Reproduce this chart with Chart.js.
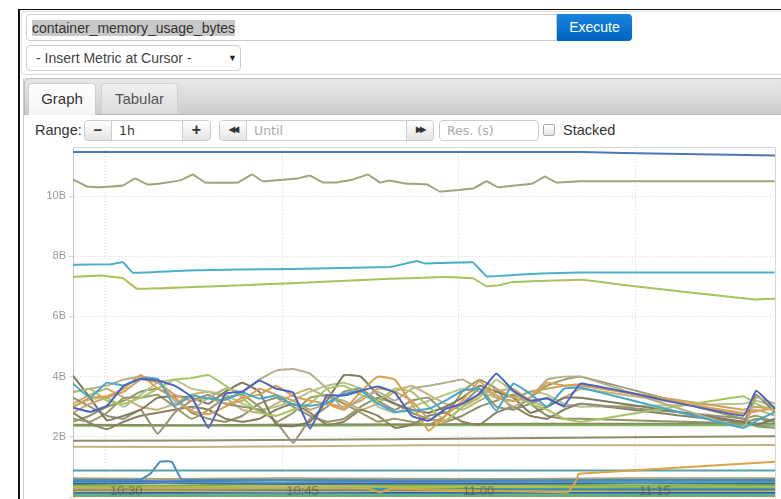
<!DOCTYPE html>
<html>
<head>
<meta charset="utf-8">
<title>container_memory_usage_bytes</title>
<script src="https://cdn.jsdelivr.net/npm/chart.js@4.4.1/dist/chart.umd.min.js"></script>
<style>
body { margin: 0; width: 781px; height: 499px; overflow: hidden; background: #fff; position: relative;
       font-family: "Liberation Sans", Arial, sans-serif; color: #333; }
.abs { position: absolute; box-sizing: border-box; }
.btn { top: 120px; height: 21px; border: 1px solid #ccc; background: linear-gradient(#fff, #e4e4e4);
       text-align: center; line-height: 18px; color: #333; font-weight: bold; }
.inp { top: 120px; height: 21px; border: 1px solid #ccc; background: #fff; padding-left: 7px;
       line-height: 19px; font-family: "DejaVu Sans", sans-serif; font-size: 12.5px; color: #aaa; }
</style>
</head>
<body>
<div class="abs" style="left:18px;top:9px;width:770px;height:500px;border-left:2px solid #111;border-top:1px solid #111"></div>
<div class="abs" style="left:21px;top:11px;width:770px;height:64px;border:1px solid #ddd;border-radius:4px"></div>

<div class="abs" style="left:26px;top:14px;width:531px;height:27px;border:1px solid #ccc;border-radius:4px 0 0 4px">
  <span style="position:absolute;left:5px;top:5px;background:#c8c8c8;font-size:14px;line-height:16px;color:#333">container_memory_usage_bytes</span>
</div>
<div class="abs" style="left:557px;top:14px;width:75px;height:27px;background:linear-gradient(#1784de,#0064c4);border-radius:0 4px 4px 0;color:#fff;font-size:14px;line-height:27px;text-align:center">Execute</div>

<div class="abs" style="left:26px;top:45px;width:215px;height:26px;border:1px solid #ccc;border-radius:4px;font-size:14px;line-height:24px;padding-left:9px;color:#444">- Insert Metric at Cursor -
  <span style="position:absolute;left:201px;top:0;font-size:9px;color:#222">&#9660;</span>
</div>

<div class="abs" style="left:23px;top:78px;width:10px;height:430px;border-left:1px solid #ccc"></div>
<div class="abs" style="left:24px;top:78px;width:760px;height:37px;background:linear-gradient(#e9e9e9,#cdcdcd);border:1px solid #bbb;border-radius:4px 0 0 0"></div>
<div class="abs" style="left:28px;top:83px;width:68px;height:32px;background:linear-gradient(#fff,#f4f4f4);border:1px solid #ccc;border-bottom:none;border-radius:4px 4px 0 0;font-size:15px;line-height:30px;text-align:center;color:#333">Graph</div>
<div class="abs" style="left:101px;top:83px;width:77px;height:31px;background:linear-gradient(#f0f0f0,#dcdcdc);border:1px solid #d0d0d0;border-bottom:none;border-radius:4px 4px 0 0;font-size:15px;line-height:30px;text-align:center;color:#555">Tabular</div>

<div class="abs" style="left:35px;top:121px;font-size:14.5px;line-height:18px">Range:</div>
<div class="abs btn" style="left:84px;width:28px;border-radius:4px 0 0 4px;font-size:15px">&#8722;</div>
<div class="abs inp" style="left:111px;width:72px;color:#333">1h</div>
<div class="abs btn" style="left:182px;width:29px;border-radius:0 4px 4px 0;font-size:16px">+</div>
<div class="abs btn" style="left:219px;width:28px;border-radius:4px 0 0 4px;font-size:8px;letter-spacing:-2px">&#9664;&#9664;</div>
<div class="abs inp" style="left:246px;width:161px">Until</div>
<div class="abs btn" style="left:406px;width:28px;border-radius:0 4px 4px 0;font-size:8px;letter-spacing:-2px">&#9654;&#9654;</div>
<div class="abs inp" style="left:439px;width:100px;border-radius:4px">Res. (s)</div>
<div class="abs" style="left:543px;top:124px;width:12px;height:12px;border:1px solid #aaa;border-radius:2px;background:linear-gradient(#fff,#e4e4e4)"></div>
<div class="abs" style="left:563px;top:121px;font-size:14.5px;line-height:18px">Stacked</div>

<div class="abs" style="left:24px;top:141px;width:752px;height:366px">
  <canvas id="memChart"></canvas>
</div>

<script>
// x positions are minutes after 10:00
const xTickTimes = [30, 45, 60, 75]
const xTickLabels = ['10:30', '10:45', '11:00', '11:15']

// the four series above 6B
const topBlueTimes = [27.2, 70.55, 73.95, 86.9]
const topBlueValues = [11.46, 11.46, 11.43, 11.35]

const topOliveTimes = [27.2, 28.39, 29.5, 31.45, 32.47, 33.49, 34.6, 36.3, 37.4, 38.42, 41.23, 42.42, 43.35, 46.24, 47.35, 48.45,
    49.64, 51.0, 52.28, 53.3, 54.15, 55.42, 57.29, 58.4, 61.2, 62.39, 63.33, 66.3, 67.32, 68.34, 70.3, 86.87]
const topOliveValues = [10.55, 10.32, 10.29, 10.35, 10.58, 10.39, 10.42, 10.52, 10.72, 10.45, 10.45, 10.72, 10.49, 10.58, 10.68, 10.45,
    10.45, 10.55, 10.72, 10.45, 10.52, 10.42, 10.39, 10.15, 10.25, 10.49, 10.29, 10.42, 10.65, 10.45, 10.49, 10.49]

const topTealTimes = [27.2, 30.35, 31.45, 32.3, 36.9, 45.9, 54.15, 56.44, 57.12, 61.2, 62.39, 66.9, 70.3, 86.87]
const topTealValues = [7.72, 7.73, 7.8, 7.45, 7.53, 7.58, 7.64, 7.84, 7.76, 7.8, 7.33, 7.43, 7.46, 7.46]

const topGreenTimes = [27.2, 29.5, 31.45, 32.64, 44.8, 54.15, 58.66, 61.2, 62.39, 63.5, 64.5, 70.45, 74.96, 85.17, 86.9]
const topGreenValues = [7.31, 7.36, 7.27, 6.92, 7.09, 7.25, 7.31, 7.27, 7.0, 7.04, 7.14, 7.22, 7.0, 6.56, 6.59]

// the busy cluster between 2B and 4B
const clusterTimes = [27.2, 28.64, 30.08, 31.52, 32.96, 34.4, 35.84, 37.28, 38.72, 40.16, 41.6, 43.04, 44.48, 45.92, 47.36, 48.8,
    50.24, 51.68, 53.12, 54.56, 56, 57.44, 58.88, 60.32, 61.76, 63.2, 64.64, 66.08, 67.52, 68.96, 70.4, 84.2, 85.3, 86.9]
const memBlue = [2.97, 2.83, 3.03, 3.7, 3.93, 3.87, 3.7, 3.33, 2.3, 3.43, 3.5, 3.87, 3.6, 3.47, 2.27, 3.37, 3.37, 3.53, 3.67, 3.47,
    2.7, 2.53, 2.93, 3.1, 3.43, 4.1, 3.53, 3.2, 3.27, 3.03, 3.77, 2.7, 3.53, 2.93]
const memTeal = [3.77, 3.3, 3.8, 3.7, 3.93, 3.93, 3.03, 3.37, 3.27, 3.23, 3.47, 3.27, 3.37, 3.07, 3.03, 3.13, 3.43, 3.53, 3.1, 2.83,
    2.87, 2.93, 3.2, 3.53, 3.6, 2.87, 3.77, 3.43, 3.0, 3.6, 3.63, 2.3, 2.53, 2.83]
const memOrange = [3.0, 3.3, 3.35, 3.6, 4.05, 3.6, 3.3, 2.85, 2.75, 3.0, 3.3, 3.4, 3.7, 3.35, 3.2, 3.1, 2.9, 3.5, 4.0, 3.9,
    3.1, 2.2, 2.7, 3.2, 3.85, 3.3, 3.2, 3.3, 3.8, 3.7, 3.75, 2.75, 2.85, 2.95]
const memAmber = [2.8, 3.1, 3.3, 3.5, 3.9, 3.8, 3.4, 3.2, 3.3, 3.1, 3.2, 3.6, 3.4, 3.2, 2.9, 3.1, 3.0, 3.2, 3.6, 3.5,
    3.2, 2.6, 2.5, 3.0, 3.4, 3.6, 3.3, 3.5, 3.6, 3.7, 3.7, 2.9, 3.0, 2.9]
const memLime = [3.47, 3.6, 3.2, 3.1, 3.3, 3.6, 3.9, 3.95, 4.05, 3.7, 3.3, 2.8, 2.7, 2.9, 3.1, 3.6, 3.7, 3.4, 3.2, 3.6,
    3.5, 3.0, 2.55, 3.0, 3.3, 3.9, 3.5, 3.1, 2.9, 2.6, 2.5, 3.35, 3.1, 2.85]
const memDarkOlive = [4.03, 3.3, 2.55, 2.7, 2.9, 3.3, 3.35, 3.3, 3.1, 3.5, 3.8, 3.5, 2.4, 2.35, 2.5, 3.2, 4.05, 4.0, 3.4, 3.1,
    2.9, 2.8, 3.0, 3.3, 3.7, 3.5, 3.3, 2.8, 3.0, 3.3, 3.3, 2.5, 2.4, 2.6]
const memKhaki = [3.5, 3.6, 3.7, 3.9, 4.0, 3.9, 3.2, 2.9, 3.3, 3.6, 3.5, 3.9, 4.2, 4.25, 4.1, 3.6, 2.9, 3.3, 3.5, 3.2,
    3.6, 3.7, 3.8, 3.9, 3.6, 3.4, 3.0, 3.3, 3.9, 4.0, 4.0, 2.3, 3.3, 3.1]
const memGreyOlive = [3.3, 3.0, 2.7, 2.6, 2.9, 2.1, 2.8, 3.2, 3.4, 3.1, 3.0, 2.9, 2.5, 1.8, 2.6, 3.0, 3.5, 3.6, 3.2, 2.9,
    3.2, 3.3, 2.8, 3.1, 3.6, 3.0, 2.9, 3.1, 3.3, 3.0, 3.1, 2.6, 2.35, 2.3]
const memOlive = [2.6, 2.5, 2.8, 3.3, 3.3, 3.4, 3.0, 2.6, 2.9, 3.3, 3.4, 3.0, 2.5, 2.8, 3.3, 3.4, 3.1, 2.8, 2.5, 2.6,
    2.5, 2.4, 2.7, 3.5, 3.9, 3.6, 2.9, 3.3, 3.7, 3.9, 4.0, 2.6, 2.7, 2.5]
const memBrown = [2.8, 2.45, 2.25, 2.5, 2.7, 2.8, 2.9, 3.0, 2.9, 2.6, 2.5, 2.6, 2.9, 3.1, 2.8, 2.4, 2.5, 2.9, 2.7, 2.3,
    2.4, 2.7, 2.8, 2.5, 2.4, 2.8, 3.0, 2.7, 2.6, 2.9, 3.1, 2.5, 3.4, 2.8]
const memSage = [3.0, 3.25, 3.3, 3.0, 3.4, 3.8, 3.9, 3.6, 3.5, 3.4, 3.1, 2.9, 3.0, 3.2, 3.5, 3.7, 3.8, 3.6, 3.0, 2.8,
    3.0, 3.2, 3.4, 3.6, 3.5, 3.3, 3.2, 3.5, 3.4, 3.1, 3.0, 3.1, 3.2, 3.0]
const memTan = [3.1, 3.4, 3.6, 3.3, 3.0, 2.9, 3.1, 3.4, 3.5, 3.3, 2.9, 2.8, 3.1, 3.4, 3.6, 3.3, 3.2, 2.9, 3.1, 3.5,
    3.7, 3.4, 3.1, 2.9, 3.2, 3.5, 3.6, 3.2, 3.0, 3.3, 3.6, 2.8, 2.9, 2.7]
const memMoss = [2.5, 2.7, 3.0, 3.2, 3.5, 3.6, 3.3, 2.8, 2.6, 2.5, 2.7, 3.1, 3.3, 3.0, 2.7, 2.5, 2.6, 3.0, 3.3, 3.1,
    2.8, 2.6, 2.5, 2.7, 3.0, 3.2, 3.4, 3.1, 2.7, 2.6, 2.6, 2.45, 2.6, 2.5]

// nearly flat series
const flatTimes = [27.2, 37, 47, 57, 67, 77, 86.9]
const limeFlat = [2.37, 2.37, 2.37, 2.38, 2.38, 2.38, 2.38]
const oliveFlat = [2.40, 2.38, 2.41, 2.42, 2.43, 2.43, 2.44]
const greyFlat = [1.87, 1.88, 1.9, 1.93, 1.96, 1.99, 2.02]
const tanFlat = [1.67, 1.66, 1.69, 1.72, 1.72, 1.72, 1.73]
const tealFlat = [0.88, 0.88, 0.88, 0.88, 0.88, 0.88, 0.88]

const spikeTimes = [27.2, 32.9, 33.8, 34.6, 35.6, 36.5, 86.9]
const spikeValues = [0.57, 0.57, 0.78, 1.17, 1.17, 0.57, 0.57]

const riseTimes = [27.2, 52.3, 53.3, 54.3, 69.3, 69.9, 70.2, 86.9]
const riseValues = [0.28, 0.28, 0.15, 0.28, 0.15, 0.47, 0.77, 1.17]

// the crowded band just above zero
const bandTimes = [27.2, 35, 45, 55, 65, 75, 86.9]
const band = [
    [0.62, 0.6, 0.62, 0.61, 0.6, 0.62, 0.62],
    [0.55, 0.52, 0.56, 0.53, 0.55, 0.57, 0.56],
    [0.5, 0.5, 0.48, 0.52, 0.5, 0.5, 0.5],
    [0.45, 0.47, 0.44, 0.46, 0.45, 0.47, 0.46],
    [0.4, 0.38, 0.42, 0.4, 0.41, 0.39, 0.4],
    [0.34, 0.33, 0.36, 0.34, 0.33, 0.35, 0.34],
    [0.29, 0.3, 0.28, 0.3, 0.29, 0.3, 0.3],
    [0.24, 0.25, 0.23, 0.24, 0.25, 0.24, 0.24],
    [0.19, 0.2, 0.18, 0.2, 0.19, 0.2, 0.2],
    [0.15, 0.15, 0.15, 0.15, 0.15, 0.15, 0.15],
    [0.1, 0.1, 0.09, 0.1, 0.11, 0.1, 0.1],
    [0.06, 0.06, 0.06, 0.06, 0.06, 0.06, 0.06],
    [0.02, 0.02, 0.02, 0.02, 0.02, 0.02, 0.02]
]
const bandColors = ['#a8a272', '#4a70c0', '#52a2aa', '#3d5ab0', '#74b254', '#b8c044', '#42a290',
    '#4a7ac8', '#d0c044', '#3050b0', '#52b898', '#62b072', '#a29c62']

const serie = (times, values, color, tension = 0.1) => ({
    data: times.map((t, i) => ({ x: t, y: values[i] })),
    borderColor: color,
    borderWidth: 2,
    pointRadius: 0,
    tension: tension
})

const datasets = [
    serie(topBlueTimes, topBlueValues, '#4a78b5', 0),
    serie(topOliveTimes, topOliveValues, '#a2a478', 0.05),
    serie(topTealTimes, topTealValues, '#4db0c8', 0.05),
    serie(topGreenTimes, topGreenValues, '#a8c25c', 0.05),
    serie(clusterTimes, memBlue, '#4c62c2'),
    serie(clusterTimes, memTeal, '#45a9c9'),
    serie(clusterTimes, memOrange, '#dba04e'),
    serie(clusterTimes, memLime, '#a9c465'),
    serie(clusterTimes, memKhaki, '#b4ae8c'),
    serie(clusterTimes, memAmber, '#cfa064'),
    serie(clusterTimes, memDarkOlive, '#7f7a5d'),
    serie(clusterTimes, memGreyOlive, '#95917a'),
    serie(clusterTimes, memOlive, '#9a9a68'),
    serie(clusterTimes, memBrown, '#8a8060'),
    serie(clusterTimes, memSage, '#b6c48c'),
    serie(clusterTimes, memTan, '#c6b07a'),
    serie(clusterTimes, memMoss, '#8d9468'),
    serie(flatTimes, oliveFlat, '#8a8a66', 0),
    serie(flatTimes, limeFlat, '#78c050', 0),
    serie(flatTimes, greyFlat, '#908c6c', 0),
    serie(flatTimes, tanFlat, '#c2b27e', 0),
    serie(riseTimes, riseValues, '#d8a448', 0),
    serie(flatTimes, tealFlat, '#5aa2a4', 0),
    serie(spikeTimes, spikeValues, '#4a88c0', 0.1),
    ...band.map((values, i) => serie(bandTimes, values, bandColors[i], 0))
]

// plot frame and the time labels that sit inside the plot
const frameAndLabels = {
    id: 'frameAndLabels',
    beforeDatasetsDraw(chart) {
        const { ctx, chartArea: a } = chart
        ctx.save()
        ctx.strokeStyle = '#d6d6d6'
        ctx.lineWidth = 1
        ctx.beginPath()
        ctx.moveTo(a.left, a.top + 0.5)
        ctx.lineTo(a.right + 0.5, a.top + 0.5)
        ctx.lineTo(a.right + 0.5, a.bottom + 10)
        ctx.stroke()
        ctx.restore()
    },
    afterDatasetsDraw(chart) {
        const { ctx, chartArea: a, scales: { x } } = chart
        ctx.save()
        ctx.font = '13px "Liberation Sans", Arial, sans-serif'
        ctx.fillStyle = 'rgba(70, 70, 70, 0.55)'
        ctx.textBaseline = 'alphabetic'
        xTickTimes.forEach((t, i) => ctx.fillText(xTickLabels[i], x.getPixelForValue(t) + 4, a.bottom - 2))
        ctx.restore()
    }
}

const ctx = document.getElementById('memChart').getContext('2d')
const memChart = new Chart(ctx, {
    type: 'line',
    data: { datasets: datasets },
    plugins: [frameAndLabels],
    options: {
        responsive: true,
        maintainAspectRatio: false,
        animation: false,
        layout: { padding: { top: 6, right: 1, bottom: 10, left: 0 } },
        plugins: { legend: { display: false }, tooltip: { enabled: false } },
        scales: {
            x: {
                type: 'linear',
                min: 27.2,
                max: 86.9,
                afterBuildTicks: (scale) => { scale.ticks = xTickTimes.map(v => ({ value: v })) },
                afterFit: (scale) => { scale.height = 0; scale.paddingLeft = 0; scale.paddingRight = 0 },
                ticks: { display: false },
                grid: { color: '#d8d8d8', drawTicks: false },
                border: { display: false, dash: [1, 2] }
            },
            y: {
                min: 0,
                max: 11.63,
                afterFit: (scale) => { scale.width = 49; scale.paddingTop = 0; scale.paddingBottom = 0 },
                ticks: {
                    stepSize: 2,
                    includeBounds: false,
                    padding: 3,
                    color: '#999',
                    font: { family: '"Liberation Sans", Arial, sans-serif', size: 11 },
                    callback: (v) => v === 0 ? '' : v + 'B'
                },
                grid: { color: '#d8d8d8', tickLength: 4 },
                border: { display: true, color: '#c4c4c4', dash: [1, 2] }
            }
        }
    }
})
</script>
</body>
</html>
